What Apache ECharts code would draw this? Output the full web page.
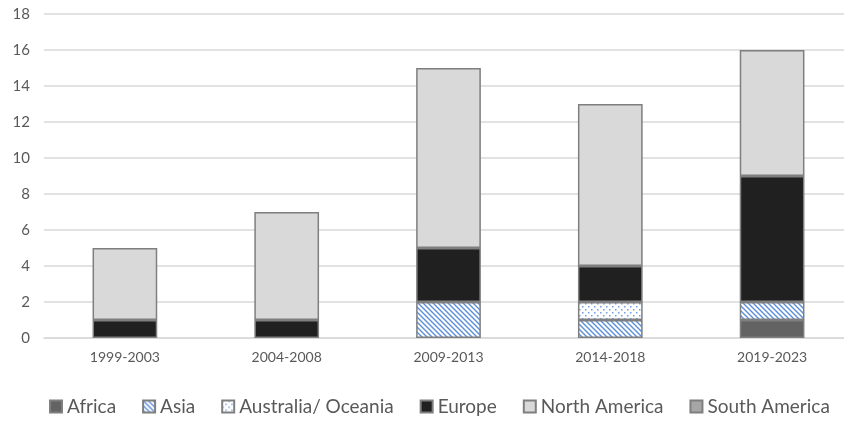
<!DOCTYPE html>
<html>
<head>
<meta charset="utf-8">
<script src="https://cdn.jsdelivr.net/npm/echarts@6/dist/echarts.min.js"></script>
<style>
html,body{margin:0;padding:0;background:#fff;}
#main{width:844px;height:421px;}
</style>
</head>
<body>
<div id="main"></div>
<script>
// periods on the x axis
var periods = ['1999-2003', '2004-2008', '2009-2013', '2014-2018', '2019-2023'];
var regions = ['Africa', 'Asia', 'Australia/ Oceania', 'Europe', 'North America', 'South America'];

// counts per region, one value per period
var africa       = [0, 0, 0, 0, 1];
var asia         = [0, 0, 2, 1, 1];
var australia    = [0, 0, 0, 1, 0];
var europe       = [1, 1, 3, 2, 7];
var northAmerica = [4, 6, 10, 9, 7];
var southAmerica = [0, 0, 0, 0, 0];

// small tiles for the hatched fills
function stripes() {
	var c = document.createElement('canvas');
	c.width = 5; c.height = 5;
	var g = c.getContext('2d');
	g.fillStyle = '#fff';
	g.fillRect(0, 0, 5, 5);
	g.strokeStyle = '#5b8ed6';
	g.lineWidth = 1.4;
	g.beginPath();
	g.moveTo(-1, -1); g.lineTo(6, 6);
	g.moveTo(-4, 1); g.lineTo(4, 9);
	g.moveTo(1, -4); g.lineTo(9, 4);
	g.stroke();
	return c;
}
function dots() {
	var c = document.createElement('canvas');
	c.width = 6; c.height = 6;
	var g = c.getContext('2d');
	g.fillStyle = '#fff';
	g.fillRect(0, 0, 6, 6);
	g.fillStyle = '#6f9fe0';
	g.fillRect(0, 0, 1.5, 1.5);
	g.fillRect(3, 3, 1.5, 1.5);
	return c;
}

var fills = [
	'#636363',
	{ image: stripes(), repeat: 'repeat' },
	{ image: dots(), repeat: 'repeat' },
	'#202020',
	'#d9d9d9',
	'#a6a6a6'
];
var values = [africa, asia, australia, europe, northAmerica, southAmerica];

var myChart = echarts.init(document.getElementById('main'));

var series = regions.map(function(name, i) {
	return {
		name: name,
		type: 'bar',
		stack: 'total',
		barWidth: '40%',
		itemStyle: {
			color: fills[i],
			borderColor: '#7f7f7f',
			borderWidth: 1.5
		},
		data: values[i].map(function(v) { return v === 0 ? '-' : v; })
	};
});

var option = {
	animation: false,
	textStyle: { fontFamily: 'Lato' },
	grid: { left: 44, top: 14, bottom: 83, width: 809, containLabel: false, outerBoundsMode: 'none' },
	legend: {
		bottom: 0,
		left: 44,
		icon: 'rect',
		itemWidth: 12,
		itemHeight: 12,
		itemGap: 26,
		textStyle: { fontSize: 19, color: '#595959', fontFamily: 'Lato' },
		data: regions
	},
	xAxis: {
		type: 'category',
		data: periods,
		axisLine: { lineStyle: { color: '#d9d9d9', width: 1.5 } },
		axisTick: { show: false },
		axisLabel: { color: '#595959', fontSize: 14, margin: 12 }
	},
	yAxis: {
		type: 'value',
		min: 0,
		max: 18,
		interval: 2,
		axisLine: { show: false },
		axisTick: { show: false },
		splitLine: { lineStyle: { color: '#d9d9d9', width: 1.5 } },
		axisLabel: { color: '#595959', fontSize: 15, margin: 14 }
	},
	series: series
};
myChart.setOption(option);
</script>
</body>
</html>
